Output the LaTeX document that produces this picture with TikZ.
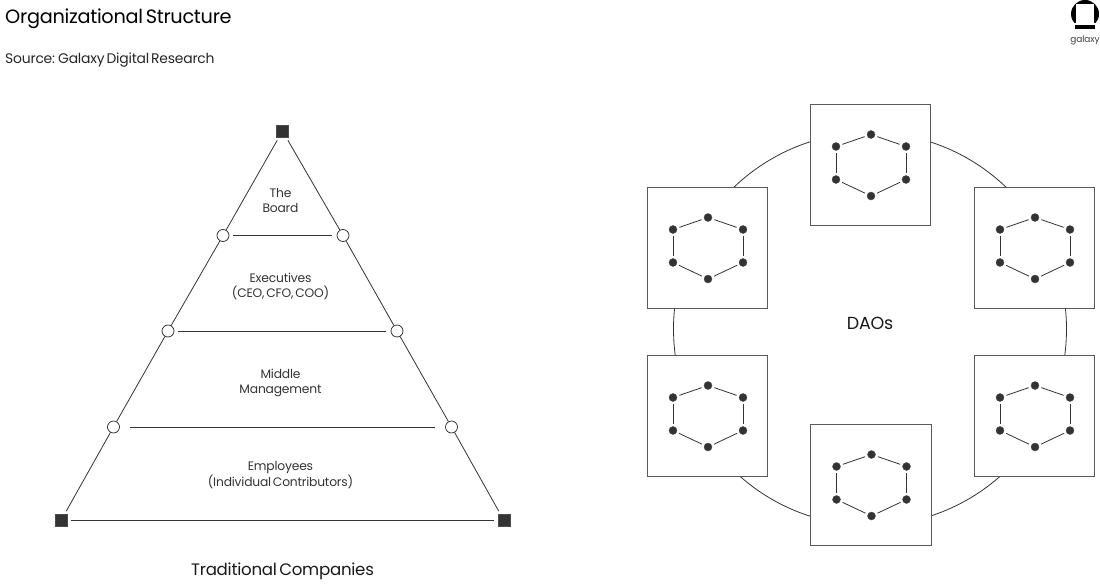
\documentclass[tikz,border=0pt]{standalone}
\usepackage{fontspec}
\setmainfont[WordSpace=0.55,LetterSpace=-1.5]{Poppins}
\usetikzlibrary{positioning}

\tikzset{
    corner/.style={rectangle, draw=black!70, fill=black!80, minimum size=12pt, inner sep=0pt, line width=0.6pt},
    joint/.style={circle, draw=black!85, fill=white, minimum size=12pt, inner sep=0pt, line width=0.7pt},
    member/.style={circle, draw=black!70, fill=black!80, minimum size=8pt, inner sep=0pt, line width=0.4pt},
    daobox/.style={rectangle, draw=black!65, fill=white, minimum size=120.5pt, inner sep=0pt, line width=1pt},
    wire/.style={black!80, line width=0.8pt},
    lbl/.style={text=black!80, font=\fontsize{12.3}{14.5}\selectfont, align=center, inner sep=0pt}
}

\begin{document}
\begin{tikzpicture}[x=1pt, y=-1pt]

    \useasboundingbox (0,0) rectangle (1100,586);

    % Titles
    \node[anchor=west, inner sep=0pt, font=\fontsize{19.3}{22}\selectfont] (title) at (5,18.5) {Organizational Structure};
    \node[anchor=west, inner sep=0pt, text=black!85, font=\fontsize{13.9}{16}\selectfont] (source) at (5,60) {Source: Galaxy Digital Research};

    % Logo
    \fill[black] (1085,14) circle (14);
    \fill[white] (1076,4) rectangle (1094,24);
    \fill[white] (1070,23) rectangle (1100,30);
    \fill[black] (1075,25) rectangle (1095,29);
    \node[inner sep=0pt, text=black!75, font=\fontsize{9}{10}\selectfont] (logotext) at (1085,40) {galaxy};

    % Pyramid
    \node[corner] (top) at (282.5,131) {};
    \node[corner] (botl) at (61,520.5) {};
    \node[corner] (botr) at (504,520.5) {};
    \node[joint] (al) at (223,235.5) {};
    \node[joint] (ar) at (343,235.5) {};
    \node[joint] (bl) at (168,331) {};
    \node[joint] (br) at (397,331) {};
    \node[joint] (cl) at (113.5,427) {};
    \node[joint] (cr) at (451.5,427) {};

    \draw[wire, shorten <=3.5pt] (top) -- (al);
    \draw[wire, shorten <=3.5pt] (top) -- (ar);
    \draw[wire] (al) -- (bl);
    \draw[wire] (ar) -- (br);
    \draw[wire] (bl) -- (cl);
    \draw[wire] (br) -- (cr);
    \draw[wire, shorten >=3.5pt] (cl) -- (botl);
    \draw[wire, shorten >=3.5pt] (cr) -- (botr);

    \draw[wire, shorten <=4pt, shorten >=5pt] (al) -- (ar);
    \draw[wire, shorten <=4pt, shorten >=5pt] (bl) -- (br);
    \draw[wire, shorten <=10pt, shorten >=10pt] (cl) -- (cr);
    \draw[wire, shorten <=4pt, shorten >=4pt] (botl) -- (botr);

    % Level labels
    \node[lbl] (board) at (280.5,200.5) {The\\Board};
    \node[lbl] (exec) at (280.5,286.5) {Executives\\(CEO, CFO, COO)};
    \node[lbl] (middle) at (280.5,383) {Middle\\Management};
    \node[lbl] (staff) at (280.5,475) {Employees\\(Individual Contributors)};
    \node[inner sep=0pt, font=\fontsize{16.6}{19}\selectfont, text=black!90] (trad) at (282.5,571.5) {Traditional Companies};

    % Ring
    \draw[wire] (870,329) circle (196.5);
    \node[inner sep=0pt, font=\fontsize{17.5}{19}\selectfont, text=black!90] (daos) at (870,323) {DAOs};

    % DAO boxes
    \foreach \n/\x/\y in {a/870.5/165, b/707.5/248, c/1034.5/248, d/707.5/416, e/1034.5/416, f/871/485} {
        \node[daobox] (\n) at (\x,\y) {};
        \node[member] (\n1) at (\x+0.5,\y-30.5) {};
        \node[member] (\n2) at (\x+35.5,\y-18.5) {};
        \node[member] (\n3) at (\x+35.5,\y+14.5) {};
        \node[member] (\n4) at (\x+0.5,\y+31) {};
        \node[member] (\n5) at (\x-34.5,\y+14.5) {};
        \node[member] (\n6) at (\x-34.5,\y-18.5) {};
        \foreach \p/\q in {1/2,2/3,3/4,4/5,5/6,6/1}
            \draw[wire, shorten <=2.5pt, shorten >=2.5pt] (\n\p) -- (\n\q);
    }

\end{tikzpicture}
\end{document}
